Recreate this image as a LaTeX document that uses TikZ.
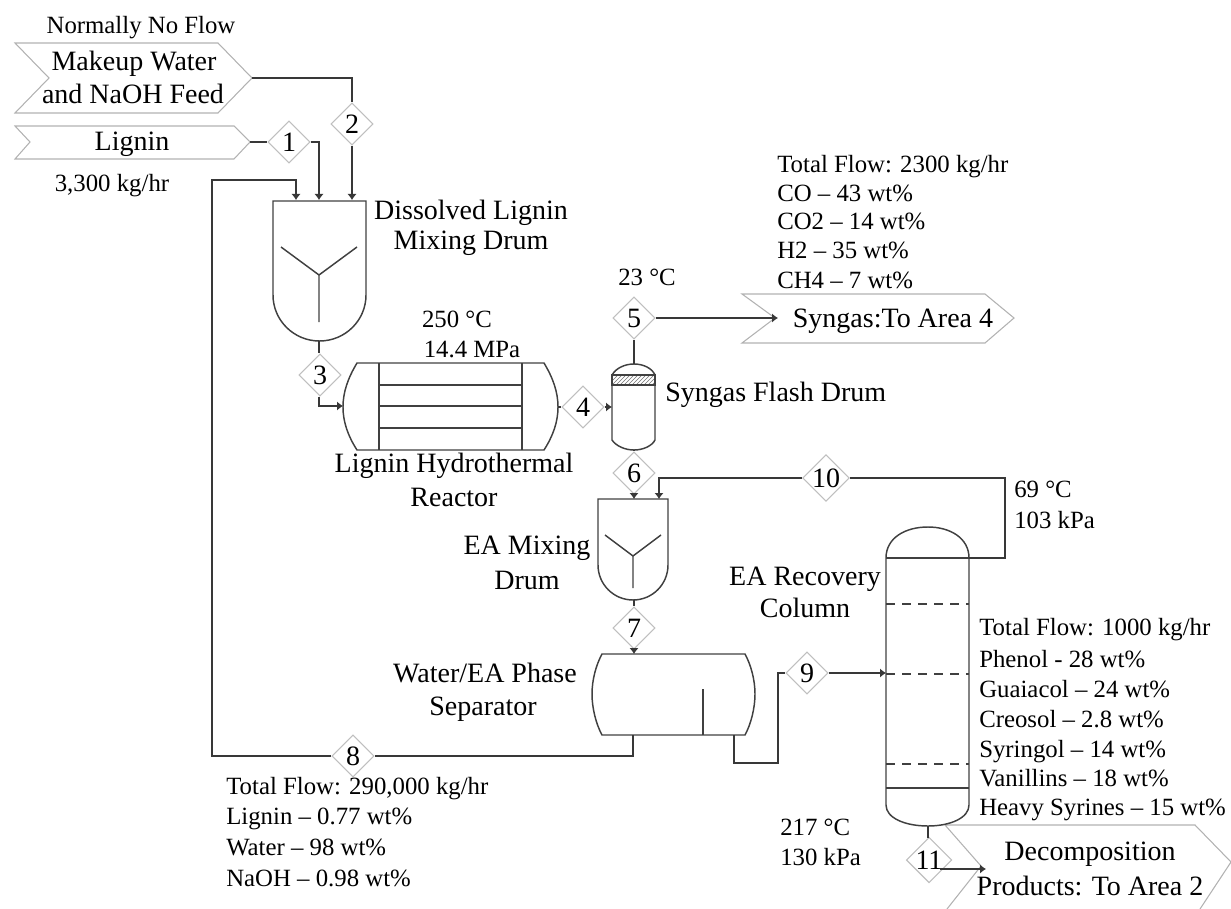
\documentclass[tikz,border=0pt]{standalone}
\usepackage{fontspec}
\setmainfont{Liberation Serif}
\usetikzlibrary{arrows.meta,shapes.geometric,patterns}
\tikzset{
 ln/.style={draw=black!78,line width=1.1pt},
 flow/.style={ln,-{Latex[length=4.5pt,width=7pt]}},
 eq/.style={draw=black!75,line width=1.1pt},
 chev/.style={draw=black!30,line width=0.8pt},
 tag/.style={diamond,draw=black!25,line width=0.8pt,fill=white,aspect=1,minimum width=31.5pt,minimum height=31.5pt,inner sep=0pt,font=\fontsize{21}{21}\selectfont},
 big/.style={anchor=base,inner sep=0pt,font=\fontsize{21}{21}\selectfont},
 small/.style={anchor=base,inner sep=0pt,font=\fontsize{18.6}{18.6}\selectfont},
 smallw/.style={anchor=base west,inner sep=0pt,font=\fontsize{18.6}{18.6}\selectfont},
 bigw/.style={anchor=base west,inner sep=0pt,font=\fontsize{21}{21}\selectfont},
}
\begin{document}
\begin{tikzpicture}[x=0.75pt,y=-0.75pt]
\useasboundingbox (0,0) rectangle (1231,909);
% stream chevrons
\draw[chev] (15,43) -- (218,43) -- (252,78) -- (218,113) -- (15,113) -- (49,78) -- cycle;
\draw[chev] (15,126) -- (234,126) -- (250,142) -- (234,159) -- (15,159) -- (30,142) -- cycle;
\draw[chev] (742,294) -- (985,294) -- (1014,318) -- (985,343) -- (742,343) -- (775,318) -- cycle;
\draw[chev] (947,909) -- (981,866) -- (945,825) -- (1195,825) -- (1231,862) -- (1200,909);
% ports
\coordinate (makeup) at (252,78);
\coordinate (lig) at (250,142);
\coordinate (syn) at (778,318);
\coordinate (dec) at (986,869);
% equipment
\draw[eq] (273,201) -- (366,201) -- (366,295) arc[start angle=0,end angle=180,x radius=46.5,y radius=46] -- cycle;
\draw[eq] (281,247) -- (319,275) -- (357,247) (319,275) -- (319,322);
\draw[eq] (357,363) -- (544,363) .. controls (553,378) and (558,392) .. (558,407) .. controls (558,422) and (553,436) .. (544,450) -- (357,450) .. controls (348,436) and (343,422) .. (343,407) .. controls (343,392) and (348,378) .. (357,363) -- cycle;
\draw[eq] (379,363) -- (379,450) (522,363) -- (522,450);
\draw[eq] (379,385) -- (522,385) (379,406) -- (522,406) (379,428) -- (522,428);
\draw[eq] (612,375) .. controls (616,368) and (625,364) .. (634,364) .. controls (643,364) and (652,368) .. (655,375) -- (655,440) .. controls (652,446) and (643,450) .. (634,450) .. controls (625,450) and (616,446) .. (612,440) -- cycle;
\fill[pattern=north east lines,pattern color=black!55] (612,375) rectangle (655,385);
\draw[eq] (612,375) rectangle (655,385);
\draw[eq] (598,499) -- (668,499) -- (668,565) arc[start angle=0,end angle=180,x radius=35,y radius=35] -- cycle;
\draw[eq] (605,535) -- (633,556) -- (661,535) (633,556) -- (633,588);
\draw[eq] (602,654) -- (745,654) .. controls (751,665) and (755,680) .. (755,694) .. controls (755,708) and (751,724) .. (745,735) -- (602,735) .. controls (596,724) and (592,708) .. (592,694) .. controls (592,680) and (596,665) .. (602,654) -- cycle;
\draw[eq] (703,689) -- (703,735);
\draw[eq] (886,558) .. controls (886,538) and (905,527) .. (928,527) .. controls (950,527) and (969,538) .. (969,558) -- (969,805) .. controls (969,818) and (950,826) .. (928,826) .. controls (905,826) and (886,818) .. (886,805) -- cycle;
\draw[eq] (886,558) -- (969,558) (886,788) -- (969,788);
\draw[eq,dashed,dash pattern=on 7pt off 5pt] (886,604) -- (969,604) (886,674) -- (969,674) (886,764) -- (969,764);
% equipment ports
\coordinate (drumA) at (296,200);
\coordinate (drumB) at (319,200);
\coordinate (drumC) at (352,200);
\coordinate (drumOut) at (319,341);
\coordinate (reacIn) at (343,406);
\coordinate (reacOut) at (558,407);
\coordinate (flashIn) at (612,407);
\coordinate (flashTop) at (634,364);
\coordinate (flashBot) at (634,450);
\coordinate (mixA) at (634,499);
\coordinate (mixB) at (659,499);
\coordinate (mixOut) at (634,600);
\coordinate (sepIn) at (634,654);
\coordinate (sepL) at (633,735);
\coordinate (sepR) at (734,735);
\coordinate (colIn) at (886,673);
\coordinate (colTop) at (969,558);
\coordinate (colBot) at (928,826);
\coordinate (tick) at (928,838);
% connectors under tags
\coordinate (cornerA) at (212,756);
\coordinate (cornerB) at (212,180);
\coordinate (cornerC) at (1005,478);
\coordinate (cornerD) at (734,763);
\coordinate (cornerE) at (778,763);
\coordinate (arrowStart) at (940,869);
% stream tags
\node[tag] (s1) at (289,142) {1};
\node[tag] (s2) at (352,124) {2};
\node[tag] (s3) at (320,375) {3};
\node[tag] (s4) at (583,407) {4};
\node[tag] (s5) at (634,318) {5};
\node[tag] (s6) at (634,473) {6};
\node[tag] (s7) at (634,628) {7};
\node[tag] (s8) at (353,756) {8};
\node[tag] (s9) at (807,673) {9};
\node[tag] (s10) at (826,478) {10};
\node[tag] (s11) at (929,860) {11};
% connectors
\draw[ln] (makeup) -| (s2.north);
\draw[flow] (s2.south) -- (drumC);
\draw[ln] (lig) -- (s1.west);
\draw[flow] (s1.east) -| (drumB);
\draw[flow] (s8.west) -- (cornerA) -- (cornerB) -| (drumA);
\draw[ln] (sepL) |- (s8.east);
\draw[ln] (drumOut) -- (s3.north -| drumOut);
\draw[flow] (s3.south -| drumOut) |- (reacIn);
\draw[ln] (reacOut) -- (s4.west);
\draw[flow] (s4.east) -- (flashIn);
\draw[ln] (flashTop) -- (s5.south);
\draw[flow] (s5.east) -- (syn);
\draw[ln] (flashBot) -- (s6.north);
\draw[flow] (s6.south) -- (mixA);
\draw[flow] (s10.west) -| (mixB);
\draw[ln] (s10.east) -- (cornerC) |- (colTop);
\draw[ln] (mixOut) -- (s7.north);
\draw[flow] (s7.south) -- (sepIn);
\draw[ln] (sepR) -- (cornerD) -- (cornerE) |- (s9.west);
\draw[flow] (s9.east) -- (colIn);
\draw[ln,line width=0.8pt] (colBot) -- (tick);
\draw[flow] (arrowStart) -- (dec);
% labels
\node[small] (t1) at (141,34) {Normally No Flow};
\node[big] (t2) at (134,71) {Makeup Water};
\node[big] (t3) at (133,104) {and NaOH Feed};
\node[big] (t4) at (132,151) {Lignin};
\node[small] (t5) at (112,192) {3,300 kg/hr};
\node[big] (t6) at (471,220) {Dissolved Lignin};
\node[big] (t7) at (471,250) {Mixing Drum};
\node[small] (t8) at (457,327) {250 \textdegree C};
\node[small] (t9) at (472,357) {14.4 MPa};
\node[big] (t10) at (454,472) {Lignin Hydrothermal};
\node[big] (t11) at (454,506) {Reactor};
\node[small] (t12) at (647,286) {23 \textdegree C};
\node[bigw] (t13) at (665,401) {Syngas Flash Drum};
\node[big] (t14) at (893,327) {Syngas:To Area 4};
\node[smallw] (a1) at (777,173) {Total Flow: 2300 kg/hr};
\node[smallw] (a2) at (777,202) {CO – 43 wt\%};
\node[smallw] (a3) at (777,230) {CO2 – 14 wt\%};
\node[smallw] (a4) at (777,259) {H2 – 35 wt\%};
\node[smallw] (a5) at (777,288) {CH4 – 7 wt\%};
\node[big] (t15) at (527,554) {EA Mixing};
\node[big] (t16) at (527,589) {Drum};
\node[big] (t17) at (805,585) {EA Recovery};
\node[big] (t18) at (805,617) {Column};
\node[big] (t19) at (485,682) {Water/EA Phase};
\node[big] (t20) at (483,715) {Separator};
\node[smallw] (t21) at (1014,497) {69 \textdegree C};
\node[smallw] (t22) at (1014,528) {103 kPa};
\node[smallw] (b1) at (979,635) {Total Flow: 1000 kg/hr};
\node[smallw] (b2) at (979,667) {Phenol - 28 wt\%};
\node[smallw] (b3) at (979,697) {Guaiacol – 24 wt\%};
\node[smallw] (b4) at (979,727) {Creosol – 2.8 wt\%};
\node[smallw] (b5) at (979,757) {Syringol – 14 wt\%};
\node[smallw] (b6) at (979,786) {Vanillins – 18 wt\%};
\node[smallw] (b7) at (979,815) {Heavy Syrines – 15 wt\%};
\node[smallw] (t23) at (780,835) {217 \textdegree C};
\node[smallw] (t24) at (780,865) {130 kPa};
\node[smallw] (c1) at (226,794) {Total Flow: 290,000 kg/hr};
\node[smallw] (c2) at (226,824) {Lignin – 0.77 wt\%};
\node[smallw] (c3) at (226,855) {Water – 98 wt\%};
\node[smallw] (c4) at (226,886) {NaOH – 0.98 wt\%};
\node[big] (t25) at (1090,860) {Decomposition};
\node[big] (t26) at (1090,895) {Products: To Area 2};
\end{tikzpicture}
\end{document}
